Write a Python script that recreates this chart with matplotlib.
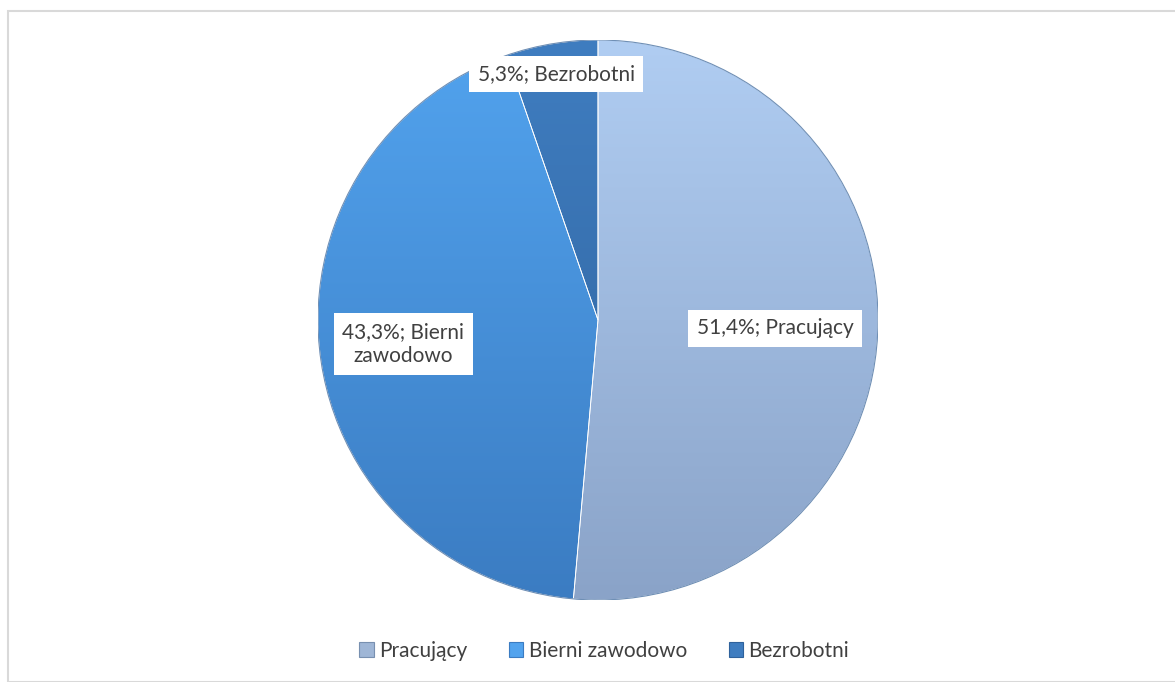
import matplotlib
matplotlib.use("Agg")
import matplotlib.pyplot as plt
import numpy as np
from matplotlib.colors import LinearSegmentedColormap
from matplotlib.patches import Rectangle, Patch

categories = ["Pracujący", "Bierni zawodowo", "Bezrobotni"]
values = [51.4, 43.3, 5.3]
label_texts = ["51,4%; Pracujący", "43,3%; Bierni\nzawodowo", "5,3%; Bezrobotni"]
top_colors = ["#b0cdf2", "#52a3ee", "#3f7dc0"]
bottom_colors = ["#8aa3c8", "#3b7cc2", "#2f629c"]

plt.rcParams['font.family'] = ['Lato', 'DejaVu Sans']

W, H = 1175, 682
fig = plt.figure(figsize=(W / 100, H / 100), dpi=100)
fig.patch.set_facecolor("white")

# border
fig.add_artist(Rectangle((8 / W, 0), 1.2, 1 - 11 / H, transform=fig.transFigure,
                         fill=False, edgecolor="#d9d9d9", linewidth=1.5))

cx, cy, r = 598, 320, 280
ax = fig.add_axes([(cx - r) / W, (H - cy - r) / H, 2 * r / W, 2 * r / H])
wedges, _ = ax.pie(values, startangle=90, counterclock=False, radius=1,
                   colors=top_colors,
                   wedgeprops=dict(edgecolor="#ffffff", linewidth=0.6))
ax.set_xlim(-1, 1)
ax.set_ylim(-1, 1)
ax.set_aspect("equal")

grad = np.linspace(0, 1, 256).reshape(-1, 1)
for w, tc, bc in zip(wedges, top_colors, bottom_colors):
    cmap = LinearSegmentedColormap.from_list("g", [tc, bc])
    im = ax.imshow(grad, extent=(-1, 1, -1, 1), origin="upper", cmap=cmap,
                   aspect="auto", zorder=w.get_zorder() + 0.1)
    im.set_clip_path(w)
    w.set_facecolor("none")
    w.set_zorder(w.get_zorder() + 0.2)

ax.add_artist(plt.Circle((0, 0), 1, fill=False, edgecolor="#6f8fb5", linewidth=0.8, zorder=5))

label_pos = [(0.632, -0.03), (-0.695, -0.086), (-0.15, 0.879)]
for t, (x, y) in zip(label_texts, label_pos):
    ax.text(x, y, t, ha="center", va="center", fontsize=15, color="#404040",
            linespacing=1.3, zorder=10, multialignment="center",
            bbox=dict(boxstyle="square,pad=0.4", facecolor="white", edgecolor="none"))

handles = [Patch(facecolor=c, edgecolor=b, linewidth=0.8) for c, b in zip(top_colors, bottom_colors)]
handles[0] = Patch(facecolor="#9fb6d6", edgecolor="#7890b0", linewidth=0.8)
fig.legend(handles, categories, loc="center", bbox_to_anchor=(604 / W, 1 - 651 / H),
           ncol=3, frameon=False, fontsize=15, handlelength=0.7, handleheight=0.7,
           handletextpad=0.25, columnspacing=2.0, labelcolor="#404040")

ax.axis("off")
fig.savefig("out.png", dpi=100, facecolor="white")
